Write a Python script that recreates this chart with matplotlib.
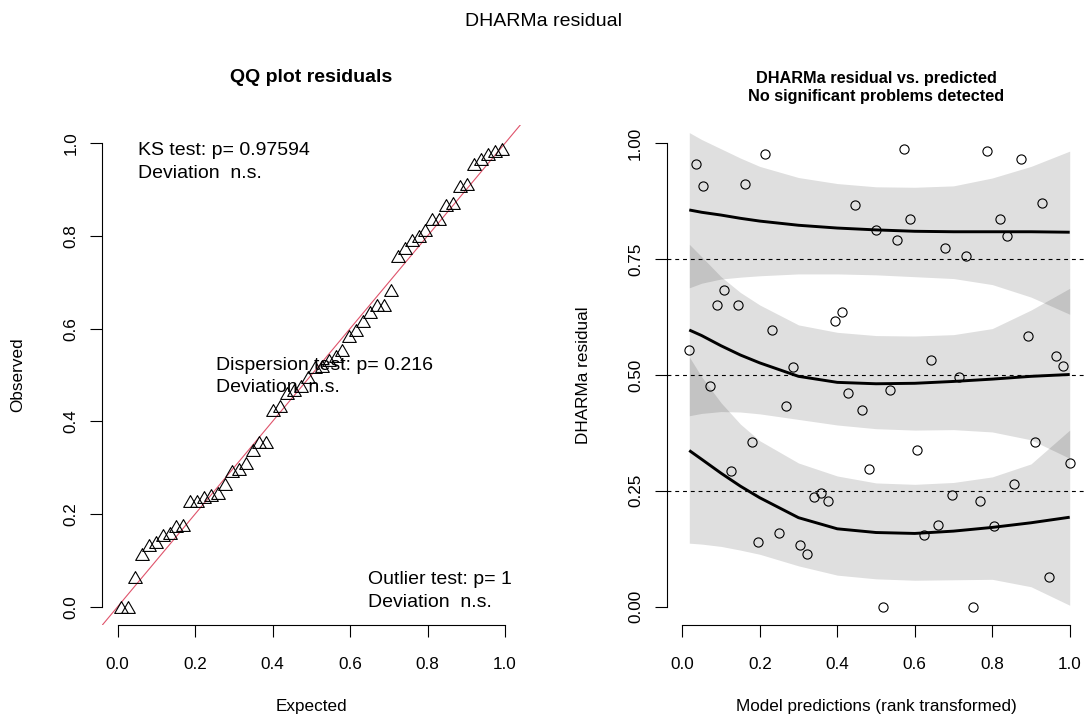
import numpy as np
import matplotlib.pyplot as plt

plt.rcParams['font.family'] = ['Liberation Sans', 'DejaVu Sans']

# rank-transformed model predictions and scaled (DHARMa) residuals, n = 56
pred_rank = [0.018, 0.036, 0.054, 0.071, 0.089, 0.107, 0.125, 0.143, 0.161, 0.179,
             0.196, 0.214, 0.232, 0.250, 0.268, 0.286, 0.304, 0.321, 0.339, 0.357,
             0.375, 0.393, 0.411, 0.429, 0.446, 0.464, 0.482, 0.500, 0.518, 0.536,
             0.554, 0.571, 0.589, 0.607, 0.625, 0.643, 0.661, 0.679, 0.696, 0.714,
             0.732, 0.750, 0.768, 0.786, 0.804, 0.821, 0.839, 0.857, 0.875, 0.893,
             0.911, 0.929, 0.946, 0.964, 0.982, 1.000]
resid = [0.554, 0.956, 0.908, 0.477, 0.652, 0.683, 0.293, 0.650, 0.911, 0.355,
         0.140, 0.976, 0.596, 0.159, 0.433, 0.517, 0.132, 0.114, 0.236, 0.246,
         0.227, 0.617, 0.636, 0.460, 0.866, 0.424, 0.296, 0.813, 0.000, 0.468,
         0.791, 0.987, 0.837, 0.337, 0.155, 0.533, 0.176, 0.774, 0.241, 0.495,
         0.756, 0.000, 0.227, 0.983, 0.173, 0.836, 0.800, 0.265, 0.965, 0.585,
         0.355, 0.871, 0.063, 0.540, 0.520, 0.309]

# quantile regression fits (0.25 / 0.5 / 0.75) with confidence bands
qx = [0.018, 0.05, 0.1, 0.15, 0.2, 0.3, 0.4, 0.5, 0.6, 0.7, 0.8, 0.9, 1.0]
q25_fit = [0.337, 0.318, 0.288, 0.260, 0.235, 0.192, 0.168, 0.160, 0.158, 0.163, 0.171, 0.181, 0.193]
q25_lo = [0.137, 0.135, 0.130, 0.122, 0.113, 0.088, 0.068, 0.060, 0.057, 0.058, 0.059, 0.043, 0.003]
q25_hi = [0.539, 0.496, 0.440, 0.394, 0.358, 0.310, 0.282, 0.267, 0.264, 0.268, 0.280, 0.308, 0.381]
q50_fit = [0.597, 0.585, 0.563, 0.543, 0.526, 0.497, 0.484, 0.481, 0.482, 0.486, 0.491, 0.497, 0.501]
q50_lo = [0.412, 0.417, 0.421, 0.420, 0.416, 0.404, 0.392, 0.384, 0.381, 0.382, 0.377, 0.360, 0.320]
q50_hi = [0.782, 0.755, 0.712, 0.678, 0.651, 0.608, 0.592, 0.585, 0.584, 0.587, 0.600, 0.640, 0.687]
q75_fit = [0.856, 0.851, 0.845, 0.838, 0.832, 0.823, 0.817, 0.813, 0.810, 0.809, 0.809, 0.809, 0.808]
q75_lo = [0.688, 0.698, 0.707, 0.711, 0.714, 0.718, 0.718, 0.716, 0.712, 0.708, 0.695, 0.668, 0.631]
q75_hi = [1.023, 1.008, 0.988, 0.968, 0.950, 0.926, 0.913, 0.906, 0.905, 0.908, 0.925, 0.950, 0.983]

ks_txt = ["KS test: p= 0.97594", "Deviation  n.s."]
disp_txt = ["Dispersion test: p= 0.216", "Deviation  n.s."]
out_txt = ["Outlier test: p= 1", "Deviation  n.s."]

W, H = 1087, 722
fig = plt.figure(figsize=(W / 100, H / 100), dpi=100)


def px_box(x0, y0, x1, y1):
    return [x0 / W, 1 - y1 / H, (x1 - x0) / W, (y1 - y0) / H]


def r_style(ax, yticks, ylabels):
    ax.set_xlim(-0.04, 1.04)
    ax.set_ylim(-0.04, 1.04)
    for s in ['top', 'right']:
        ax.spines[s].set_visible(False)
    for s in ['left', 'bottom']:
        ax.spines[s].set_linewidth(0.8)
    ax.spines['left'].set_bounds(yticks[0], yticks[-1])
    ax.spines['bottom'].set_bounds(0, 1)
    ax.set_xticks([0, 0.2, 0.4, 0.6, 0.8, 1.0])
    ax.set_xticklabels(['0.0', '0.2', '0.4', '0.6', '0.8', '1.0'])
    ax.set_yticks(yticks)
    ax.set_yticklabels(ylabels, rotation=90, va='center')
    ax.tick_params(direction='out', length=8.6, width=0.8, labelsize=12.3, colors='black')
    ax.tick_params(axis='x', pad=14)
    ax.tick_params(axis='y', pad=8.5)


# left: QQ plot of residuals against uniform quantiles
ax1 = fig.add_axes(px_box(102.2, 124.7, 520.5, 625.2))
n = len(resid)
observed = np.sort(resid)
expected = (np.arange(1, n + 1) - 0.5) / n
ax1.axline((0, 0), (1, 1), color='#DF536B', lw=0.8)
tri = [(0, 1), (-1.15, -1), (1.15, -1), (0, 1)]
ax1.plot(expected, observed, linestyle='none', marker=tri, ms=9.8,
         mfc='none', mec='black', mew=0.8)
r_style(ax1, [0, 0.2, 0.4, 0.6, 0.8, 1.0], ['0.0', '0.2', '0.4', '0.6', '0.8', '1.0'])


def legend_block(ax, px, py, lines):
    for i, t in enumerate(lines):
        ax.text((px - 117.7) / 387.3, (606.7 - (py + 23 * i)) / 463.5, t,
                fontsize=14, ha='left', va='center')


legend_block(ax1, 137.7, 150, ks_txt)
legend_block(ax1, 216, 365, disp_txt)
legend_block(ax1, 367.7, 580, out_txt)

# right: residuals vs. rank-transformed predictions
ax2 = fig.add_axes(px_box(666.8, 124.7, 1085.2, 625.2))
for lo, hi in [(q25_lo, q25_hi), (q50_lo, q50_hi), (q75_lo, q75_hi)]:
    ax2.fill_between(qx, lo, hi, color='black', alpha=0.125, lw=0)
for q in [0.25, 0.5, 0.75]:
    ax2.axhline(q, color='black', lw=0.8, linestyle=(0, (3.5, 3.5)))
for fit in [q25_fit, q50_fit, q75_fit]:
    ax2.plot(qx, fit, color='black', lw=2.1, solid_capstyle='butt')
ax2.plot(pred_rank, resid, linestyle='none', marker='o', ms=6.6,
         mfc='none', mec='black', mew=0.8)
r_style(ax2, [0, 0.25, 0.5, 0.75, 1.0], ['0.00', '0.25', '0.50', '0.75', '1.00'])

# titles and axis labels
fig.text(543.5 / W, 1 - 21 / H, "DHARMa residual", fontsize=14, ha='center', va='center')
fig.text(311.3 / W, 1 - 78 / H, "QQ plot residuals", fontsize=14, fontweight='bold',
         ha='center', va='center')
fig.text(876 / W, 1 - 78 / H, "DHARMa residual vs. predicted", fontsize=11.7,
         fontweight='bold', ha='center', va='center')
fig.text(876 / W, 1 - 97 / H, "No significant problems detected", fontsize=11.7,
         fontweight='bold', ha='center', va='center')
fig.text(311.3 / W, 1 - 706 / H, "Expected", fontsize=12.3, ha='center', va='center')
fig.text(18 / W, 1 - 375 / H, "Observed", fontsize=12.3, ha='center', va='center', rotation=90)
fig.text(876 / W, 1 - 706 / H, "Model predictions (rank transformed)", fontsize=12.3,
         ha='center', va='center')
fig.text(584 / W, 1 - 375 / H, "DHARMa residual", fontsize=12.3, ha='center', va='center',
         rotation=90)

fig.savefig('out.png', dpi=100)
